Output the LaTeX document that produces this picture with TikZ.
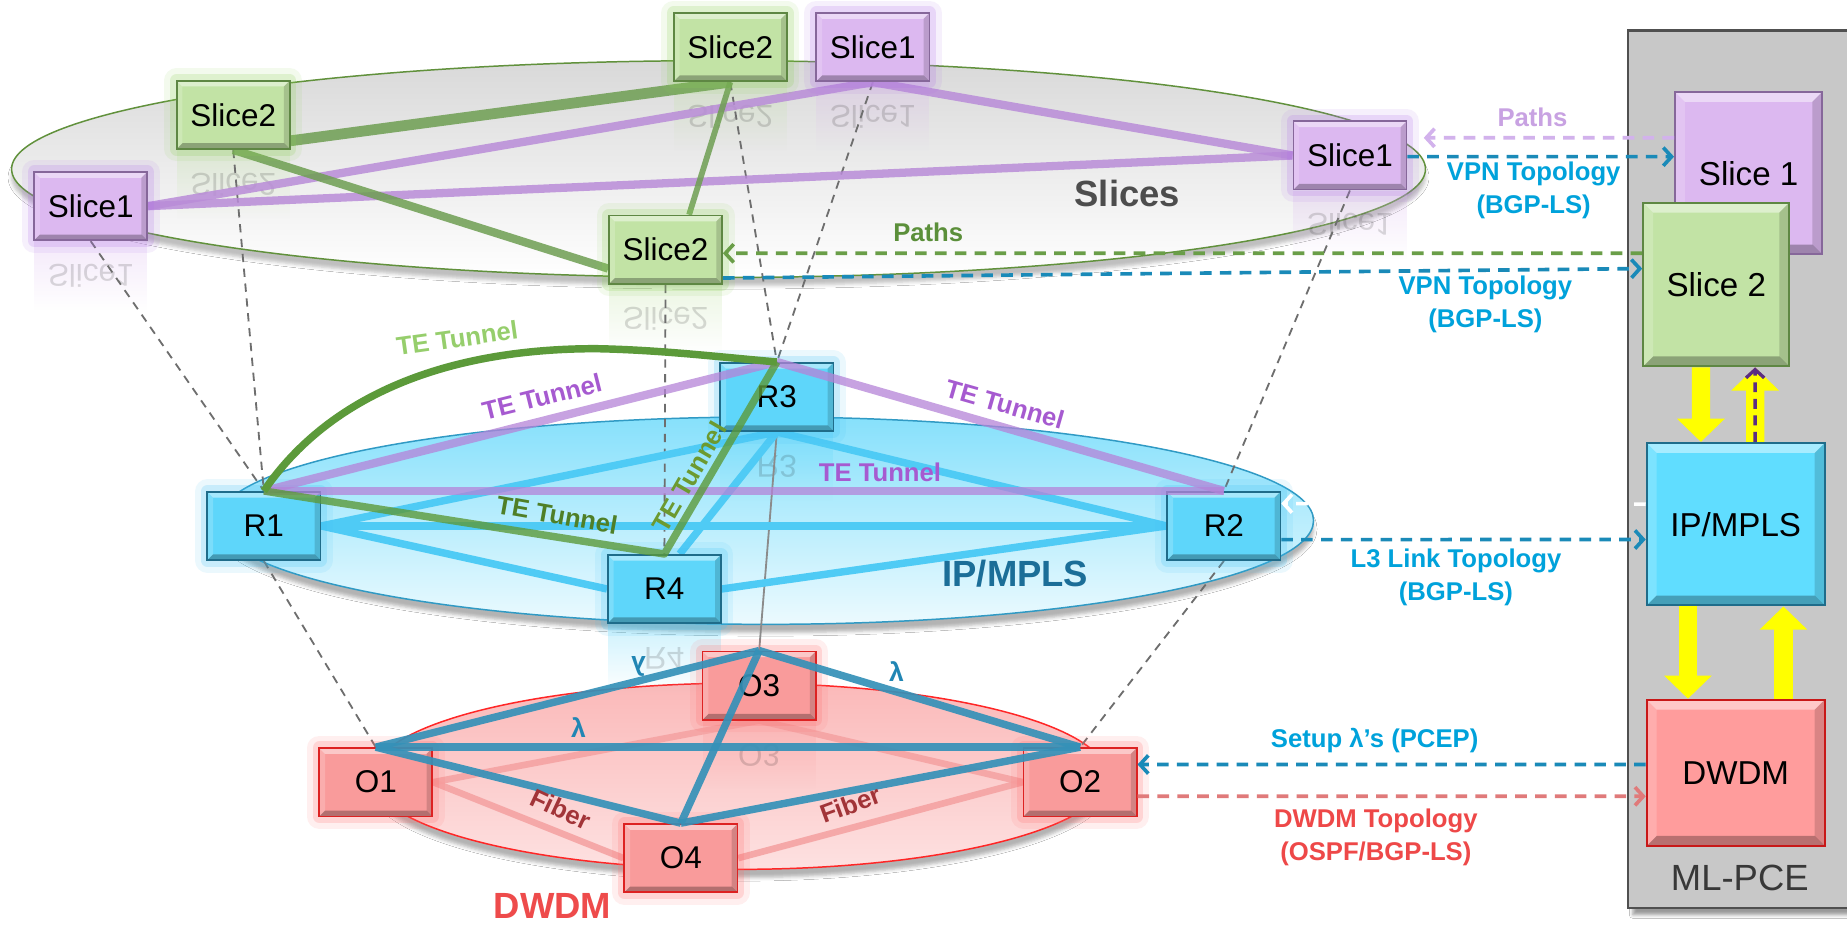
\documentclass[tikz,border=0pt]{standalone}
\usepackage{fontspec}
\setmainfont{Liberation Sans}
\usepackage{graphicx}
\usetikzlibrary{arrows.meta,fadings,shadows.blur}

\pgfdeclarelayer{back}
\pgfdeclarelayer{links}
\pgfdeclarelayer{front}
\pgfsetlayers{back,links,main,front}

% box colours
\definecolor{cSP}{HTML}{DCB8F0}
\definecolor{cSPd}{HTML}{86679A}
\definecolor{cSPg}{HTML}{B070E8}
\definecolor{cSG}{HTML}{C2E3A5}
\definecolor{cSGd}{HTML}{5E8743}
\definecolor{cSGg}{HTML}{8ACF55}
\definecolor{cRT}{HTML}{5ED6FA}
\definecolor{cRTd}{HTML}{1F6C8A}
\definecolor{cRTg}{HTML}{3CC0F5}
\definecolor{cOX}{HTML}{F99B9B}
\definecolor{cOXd}{HTML}{DD2222}
\definecolor{cOXg}{HTML}{FF6A6A}
\definecolor{cPI}{HTML}{60DDFF}
\definecolor{cPD}{HTML}{FF9C9C}
\definecolor{cPDd}{HTML}{C81818}
\definecolor{cPanel}{HTML}{C8C8C8}
\definecolor{cPanelD}{HTML}{505050}
% link colours
\definecolor{cLinkP}{HTML}{B98CD8}
\definecolor{cLinkG}{HTML}{6E9E52}
\definecolor{cLinkC}{HTML}{4FCBF5}
\definecolor{cTunP}{HTML}{B583D8}
\definecolor{cTunG}{HTML}{5C9A3A}
\definecolor{cLam}{HTML}{3591B8}
\definecolor{cFib}{HTML}{F5A3A3}
\definecolor{cVert}{HTML}{6E6E6E}
\definecolor{cArrB}{HTML}{1A8AB8}
\definecolor{cArrP}{HTML}{D2B2EC}
\definecolor{cArrG}{HTML}{6A9E48}
\definecolor{cArrR}{HTML}{E07A7A}
\definecolor{cYel}{HTML}{FFFF00}
\definecolor{cUpDash}{HTML}{5B2C83}
% text colours
\definecolor{tTeP}{HTML}{A65AD0}
\definecolor{tTeL}{HTML}{96CE6C}
\definecolor{tTeD}{HTML}{4F7F27}
\definecolor{tTeO}{HTML}{6C9A30}
\definecolor{tBlue}{HTML}{00A2DB}
\definecolor{tRed}{HTML}{EE4848}
\definecolor{tPathP}{HTML}{C8A2E2}
\definecolor{tPathG}{HTML}{5B8F3A}
\definecolor{tLam}{HTML}{2186B4}
\definecolor{tFib}{HTML}{A23438}
\definecolor{tSlices}{HTML}{4D4D4D}
\definecolor{tIP}{HTML}{1B6E98}
\definecolor{tDWDM}{HTML}{EE4B4B}

\tikzset{
  bevel/.style={path picture={
    \fill[white,fill opacity=0.45] (path picture bounding box.north west) -- (path picture bounding box.north east)
      -- ([shift={(-#1,-#1)}]path picture bounding box.north east) -- ([shift={(#1,-#1)}]path picture bounding box.north west) -- cycle;
    \fill[black,fill opacity=0.28] (path picture bounding box.south west) -- (path picture bounding box.south east)
      -- ([shift={(-#1,#1)}]path picture bounding box.south east) -- ([shift={(#1,#1)}]path picture bounding box.south west) -- cycle;
    \fill[white,fill opacity=0.18] (path picture bounding box.north west) -- (path picture bounding box.south west)
      -- ([shift={(#1,#1)}]path picture bounding box.south west) -- ([shift={(#1,-#1)}]path picture bounding box.north west) -- cycle;
    \fill[black,fill opacity=0.15] (path picture bounding box.north east) -- (path picture bounding box.south east)
      -- ([shift={(-#1,#1)}]path picture bounding box.south east) -- ([shift={(-#1,-#1)}]path picture bounding box.north east) -- cycle;
  }},
  glow/.style={preaction={draw=#1, draw opacity=0.10, line width=15pt, line join=round},
               preaction={draw=#1, draw opacity=0.20, line width=8pt, line join=round}},
  box/.style={rectangle, inner sep=0pt, line width=1pt, text=black,
              font=\fontsize{19}{22}\selectfont,
              minimum width=2.4cm, minimum height=1.45cm, bevel=3.5pt},
  sP/.style={box, fill=cSP, draw=cSPd, glow=cSPg},
  sG/.style={box, fill=cSG, draw=cSGd, glow=cSGg},
  rt/.style={box, fill=cRT, draw=cRTd, glow=cRTg},
  ox/.style={box, fill=cOX, draw=cOXd, glow=cOXg},
  pbox/.style={rectangle, inner sep=0pt, line width=1.2pt, text=black,
               font=\fontsize{20}{24}\selectfont, bevel=6pt},
  refl/.style={rectangle, inner sep=0pt, anchor=north, minimum width=2.4cm, minimum height=1.45cm,
               fill=#1, fill opacity=0.3, path fading=south, text=black, text opacity=0.14,
               font=\fontsize{19}{22}\selectfont},
  vdash/.style={draw=cVert, line width=1.1pt, dash pattern=on 5pt off 4pt},
  slP/.style={draw=cLinkP, draw opacity=0.85, line width=5pt},
  slG/.style={draw=cLinkG, draw opacity=0.85, line width=#1},
  rlink/.style={draw=cLinkC, line width=4.5pt},
  fiber/.style={draw=cFib, draw opacity=0.9, line width=4pt},
  lambda/.style={draw=cLam, draw opacity=0.92, line width=4.5pt, line join=round},
  tunP/.style={draw=cTunP, draw opacity=0.75, line width=5pt},
  tunG/.style={draw=cTunG, draw opacity=#1, line width=4.5pt, line join=round},
  darr/.style={line width=2.2pt, dash pattern=on 7pt off 5pt, -{Straight Barb[length=5pt,width=11pt]}},
  yel/.style={draw=cYel, line width=11pt, -{Triangle[length=14pt,width=28pt]}},
  lbl/.style={inner sep=0pt, font=\bfseries\fontsize{15.5}{19.9}\selectfont, align=center},
  biglbl/.style={inner sep=0pt, font=\bfseries\fontsize{22}{26}\selectfont},
  lamlbl/.style={inner sep=0pt, text=tLam, font=\bfseries\fontsize{16}{19}\selectfont},
}

\begin{document}
\begin{tikzpicture}[x=0.025cm, y=-0.025cm]
\useasboundingbox (0,0) rectangle (1568,785);

% ---------- nodes ----------
% slice layer
\node[sP] (s1L) at (77,175)   {Slice1};
\node[sG] (s2L) at (198,97.5) {Slice2};
\node[sG] (s2T) at (620,40)   {Slice2};
\node[sP] (s1T) at (741,40)   {Slice1};
\node[sP] (s1R) at (1146,132) {Slice1};
\node[sG] (s2M) at (565,212)  {Slice2};
% IP/MPLS layer
\node[rt] (R1) at (224,446.5) {R1};
\node[rt] (R3) at (659.5,337) {R3};
\node[rt] (R2) at (1039,446.5){R2};
\node[rt] (R4) at (564,500)   {R4};
% DWDM layer
\node[ox] (O1) at (319,664)   {O1};
\node[ox] (O3) at (644.5,582) {O3};
\node[ox] (O2) at (917,664)   {O2};
\node[ox] (O4) at (578,728.5) {O4};
% ML-PCE boxes
\node[pbox, fill=cSP, draw=cSPd, minimum width=3.125cm, minimum height=3.45cm]  (P1) at (1484.5,147)   {Slice 1};
\node[pbox, fill=cSG, draw=cSGd, minimum width=3.1cm,   minimum height=3.475cm] (P2) at (1457,241.5)   {Slice 2};
\node[pbox, fill=cPI, draw=cRTd, minimum width=3.775cm, minimum height=3.45cm]  (PI) at (1473.5,445)   {IP/MPLS};
\node[pbox, fill=cPD, draw=cPDd, minimum width=3.775cm, minimum height=3.1cm]   (PD) at (1473.5,656)   {DWDM};

% yellow hand-offs inside the PCE
\draw[yel] ([xshift=-0.325cm]P2.south) -- ([xshift=-0.7375cm]PI.north);
\draw[yel] ([xshift=0.4125cm]PI.north) -- ([xshift=0.825cm]P2.south);
\draw[draw=cUpDash, line width=2pt, dash pattern=on 6pt off 4pt, -{Straight Barb[length=5pt,width=11pt]}]
  ([xshift=0.4125cm]PI.north) -- ([xshift=0.825cm]P2.south);
\draw[yel] ([xshift=-1.0125cm]PI.south) -- ([xshift=-1.0125cm]PD.north);
\draw[yel] ([xshift=1.0125cm]PD.north) -- ([xshift=1.0125cm]PI.south);

% ---------- background: planes, panel, reflections ----------
\begin{pgfonlayer}{back}
  \fill[white] (0,0) rectangle (1568,785);
  \path[fill=cPanel, draw=cPanelD, line width=1.5pt,
        blur shadow={shadow xshift=3pt, shadow yshift=-4pt, shadow opacity=40}]
    (1382,26) rectangle (1640,771);
  \node[inner sep=0pt, text=black!78, font=\fontsize{22}{26}\selectfont] (mlpce) at (1477,745) {ML-PCE};

  \path[draw=cSGg!70!black, line width=0.9pt, top color=black!15, bottom color=white,
        blur shadow={shadow xshift=0pt, shadow yshift=-5pt, shadow opacity=25}]
    (610,143.5) ellipse [x radius=15cm, y radius=2.3cm];
  \path[draw=cRTg!80!black, line width=0.9pt, top color=cRT!75, bottom color=cRT!12,
        blur shadow={shadow xshift=0pt, shadow yshift=-5pt, shadow opacity=30}]
    (650,442) ellipse [x radius=11.625cm, y radius=2.2cm];
  \path[draw=red!85!white, line width=0.9pt, top color=cOX!70, bottom color=cOX!30,
        blur shadow={shadow xshift=0pt, shadow yshift=-5pt, shadow opacity=30}]
    (628,659) ellipse [x radius=7.8cm, y radius=1.975cm];

  \node[refl=cSP] (s1Lr) at (s1L.south) {\scalebox{1}[-1]{Slice1}};
  \node[refl=cSG] (s2Lr) at (s2L.south) {\scalebox{1}[-1]{Slice2}};
  \node[refl=cSG] (s2Tr) at (s2T.south) {\scalebox{1}[-1]{Slice2}};
  \node[refl=cSP] (s1Tr) at (s1T.south) {\scalebox{1}[-1]{Slice1}};
  \node[refl=cSP] (s1Rr) at (s1R.south) {\scalebox{1}[-1]{Slice1}};
  \node[refl=cSG] (s2Mr) at (s2M.south) {\scalebox{1}[-1]{Slice2}};
  \node[refl=cRT] (R3r)  at (R3.south)  {\scalebox{1}[-1]{R3}};
  \node[refl=cRT] (R4r)  at (R4.south)  {\scalebox{1}[-1]{R4}};
  \node[refl=cOX] (O3r)  at (O3.south)  {\scalebox{1}[-1]{O3}};
\end{pgfonlayer}

% ---------- links behind the boxes ----------
\begin{pgfonlayer}{links}
  % layer-to-layer mappings
  \draw[vdash] (s1L.south) -- (R1.north);
  \draw[vdash] (s2L.south) -- (R1.north);
  \draw[vdash] (s2M.south) -- (R4.north);
  \draw[vdash] (s2T.south) -- (R3.north);
  \draw[vdash] (s1T.south) -- (R3.north);
  \draw[vdash] (s1R.south) -- (R2.north);
  \draw[vdash] (R1.south) -- (O1.north);
  \draw[vdash] (R2.south) -- (O2.north);
  \draw[draw=cVert!80, line width=1.1pt] (R3.south) -- (O3.north);

  % slice 1 virtual links
  \draw[slP] (s1L.east) -- (s1T.south);
  \draw[slP] (s1L.east) -- (s1R.west);
  \draw[slP] (s1T.south) -- (s1R.west);
  % slice 2 virtual links
  \draw[slG=6.5pt] ([yshift=-0.55cm]s2L.east) -- (s2T.south);
  \draw[slG=5pt] (s2L.south) -- ([yshift=-0.4cm]s2M.west);
  \draw[slG=3.5pt] (s2T.south) -- ([xshift=0.5cm]s2M.north);

  % IP links
  \draw[rlink] (R1.east) -- (R3.south);
  \draw[rlink] (R1.east) -- (R2.west);
  \draw[rlink] (R1.east) -- (R4.west);
  \draw[rlink] (R3.south) -- ([xshift=0.325cm]R4.north);
  \draw[rlink] (R3.south) -- (R2.west);
  \draw[rlink] (R4.east) -- (R2.west);

  % fibers
  \draw[fiber] (O1.east) -- (O3.south);
  \draw[fiber] (O3.south) -- (O2.west);
  \draw[fiber] (O1.east) -- (O4.west);
  \draw[fiber] (O4.east) -- (O2.west);
\end{pgfonlayer}

% ---------- tunnels, lambdas, labels, control arrows ----------
\begin{pgfonlayer}{front}
  \draw[tunP] (R1.north) -- (R3.north);
  \draw[tunP] (R3.north) -- (R2.north);
  \draw[tunP] (R1.north) -- (R2.north);
  \draw[tunG=0.8] (R1.north) -- (R4.north) -- (R3.north);
  \draw[tunG=1] (R1.north) .. controls (280,335) and (380,296) .. (506,296)
                           .. controls (560,297) and (610,303) .. (R3.north);

  \draw[lambda] (O1.north) -- (O3.north);
  \draw[lambda] (O3.north) -- (O2.north);
  \draw[lambda] (O1.north) -- (O2.north);
  \draw[lambda] (O1.north) -- (O4.north);
  \draw[lambda] (O4.north) -- (O2.north);
  \draw[lambda] (O3.north) -- (O4.north);

  % tunnel labels
  \node[lbl, text=tTeL, rotate=8]   (teA) at (388,287) {TE Tunnel};
  \node[lbl, text=tTeP, rotate=14]  (teB) at (460,337) {TE Tunnel};
  \node[lbl, text=tTeP, rotate=-16] (teC) at (853,343) {TE Tunnel};
  \node[lbl, text=tTeP]             (teD) at (747,401) {TE Tunnel};
  \node[lbl, text=tTeD, rotate=-10] (teE) at (473,437) {TE Tunnel};
  \node[lbl, text=tTeO, rotate=60]  (teF) at (585,405) {TE Tunnel};

  % lambda and fiber labels
  \node[lamlbl, rotate=180] (lamA) at (542,566) {λ};
  \node[lamlbl]             (lamB) at (761,570) {λ};
  \node[lamlbl]             (lamC) at (491,618) {λ};
  \node[lbl, text=tFib, rotate=-25] (fibA) at (476,687) {Fiber};
  \node[lbl, text=tFib, rotate=20]  (fibB) at (722,683) {Fiber};

  % plane labels
  \node[biglbl, text=tSlices] (lSlices) at (957,164) {Slices};
  \node[biglbl, text=tIP]     (lIP)     at (862,487) {IP/MPLS};
  \node[biglbl, text=tDWDM]   (lDWDM)   at (469,769) {DWDM};

  % control-plane exchanges
  \draw[darr, draw=cArrP, shorten >=0.35cm] ([yshift=0.75cm]P1.west) -- ([yshift=0.375cm]s1R.east);
  \node[lbl, text=tPathP] (lPathsA) at (1301,100) {Paths};
  \draw[darr, draw=cArrB] ([yshift=-0.025cm]s1R.east) -- ([yshift=0.35cm]P1.west);
  \node[lbl, text=tBlue] (lVpnA) at (1302,162) {VPN Topology\\(BGP-LS)};

  \draw[darr, draw=cArrG] ([yshift=0.6625cm]P2.west) -- ([yshift=-0.075cm]s2M.east);
  \node[lbl, text=tPathG] (lPathsB) at (788,197) {Paths};
  \draw[darr, draw=cArrB] ([yshift=-0.6cm]s2M.east) -- ([yshift=0.3375cm]P2.west);
  \node[lbl, text=tBlue] (lVpnB) at (1261,258) {VPN Topology\\(BGP-LS)};

  \draw[darr, draw=white] ([yshift=0.425cm]PI.west) -- ([yshift=0.475cm]R2.east);
  \draw[darr, draw=cArrB] ([yshift=-0.29cm]R2.east) -- ([yshift=-0.325cm]PI.west);
  \node[lbl, text=tBlue] (lL3) at (1236,490) {L3 Link Topology\\(BGP-LS)};

  \draw[darr, draw=cArrB] ([yshift=0.175cm]PD.west) -- ([yshift=0.375cm]O2.east);
  \node[lbl, text=tBlue] (lSetup) at (1167,629) {Setup λ’s (PCEP)};
  \draw[darr, draw=cArrR] ([yshift=-0.3cm]O2.east) -- ([yshift=-0.5cm]PD.west);
  \node[lbl, text=tRed] (lDwdmTop) at (1168,710.5) {DWDM Topology\\(OSPF/BGP-LS)};
\end{pgfonlayer}
\end{tikzpicture}
\end{document}
